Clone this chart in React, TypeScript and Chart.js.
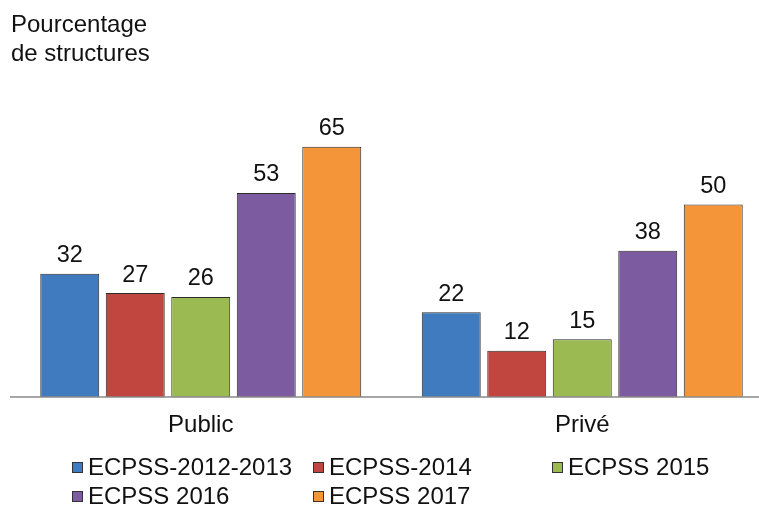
import React, { useEffect, useRef } from "react";
import { Chart, registerables } from "chart.js";

Chart.register(...registerables);

const categories = ["Public", "Privé"];
const seriesNames = ["ECPSS-2012-2013", "ECPSS-2014", "ECPSS 2015", "ECPSS 2016", "ECPSS 2017"];
const s2012 = [32, 22];
const s2014 = [27, 12];
const s2015 = [26, 15];
const s2016 = [53, 38];
const s2017 = [65, 50];
const seriesColors = ["#3F7BBE", "#C0463F", "#9BBA51", "#7C5BA0", "#F5953A"];
const titleLines = ["Pourcentage", "de structures"];

const FONT = '"Liberation Sans", Arial, sans-serif';

export default function App() {
  const ref = useRef<HTMLCanvasElement | null>(null);
  useEffect(() => {
    document.body.style.margin = "0";
    const canvas = ref.current;
    if (!canvas) return;
    const values = [s2012, s2014, s2015, s2016, s2017];
    const overlay = {
      id: "overlay",
      afterDatasetsDraw(chart: any) {
        const ctx = chart.ctx;
        const area = chart.chartArea;
        const x = chart.scales.x;
        ctx.save();
        // baseline
        ctx.strokeStyle = "#8a8a8a";
        ctx.lineWidth = 1.5;
        ctx.beginPath();
        ctx.moveTo(10, area.bottom);
        ctx.lineTo(chart.width, area.bottom);
        ctx.stroke();
        // data labels
        ctx.fillStyle = "#111";
        ctx.font = `23.5px ${FONT}`;
        ctx.textAlign = "center";
        ctx.textBaseline = "middle";
        chart.data.datasets.forEach((ds: any, i: number) => {
          const meta = chart.getDatasetMeta(i);
          meta.data.forEach((bar: any, j: number) => {
            ctx.fillText(String(ds.data[j]), bar.x, bar.y - 18);
          });
        });
        // category labels
        ctx.font = `24px ${FONT}`;
        categories.forEach((c, i) => {
          ctx.fillText(c, x.getPixelForValue(i), 425);
        });
        // title
        ctx.textAlign = "left";
        ctx.font = `24px ${FONT}`;
        ctx.fillText(titleLines[0], 11, 25);
        ctx.fillText(titleLines[1], 11, 54);
        // legend
        const pos = [
          [72, 468],
          [313, 468],
          [552, 468],
          [72, 497],
          [313, 497],
        ];
        seriesNames.forEach((n, i) => {
          const [lx, ly] = pos[i];
          ctx.fillStyle = seriesColors[i];
          ctx.fillRect(lx, ly - 6, 11, 11);
          ctx.strokeStyle = "#333";
          ctx.lineWidth = 1;
          ctx.strokeRect(lx + 0.5, ly - 5.5, 10, 10);
          ctx.fillStyle = "#111";
          ctx.fillText(n, lx + 16, ly);
        });
        ctx.restore();
      },
    };
    const chart = new Chart(canvas, {
      type: "bar",
      data: {
        labels: categories,
        datasets: seriesNames.map((n, i) => ({
          label: n,
          data: values[i],
          backgroundColor: seriesColors[i],
          borderColor: "#2b2b2b",
          borderWidth: 1,
          categoryPercentage: 0.8585,
          barPercentage: 0.9,
        })),
      },
      options: {
        animation: false,
        responsive: false,
        maintainAspectRatio: false,
        layout: { padding: { left: 10, right: 2, top: 89, bottom: 112 } },
        plugins: { legend: { display: false }, tooltip: { enabled: false } },
        scales: {
          x: { display: false },
          y: { display: false, min: 0, max: 80 },
        },
      },
      plugins: [overlay],
    });
    return () => chart.destroy();
  }, []);
  return (
    <div style={{ width: 759, height: 509, overflow: "hidden", position: "relative", background: "#fff" }}>
      <canvas ref={ref} width={775} height={509} style={{ position: "absolute", left: 0, top: 0, width: 775, height: 509 }} />
    </div>
  );
}
